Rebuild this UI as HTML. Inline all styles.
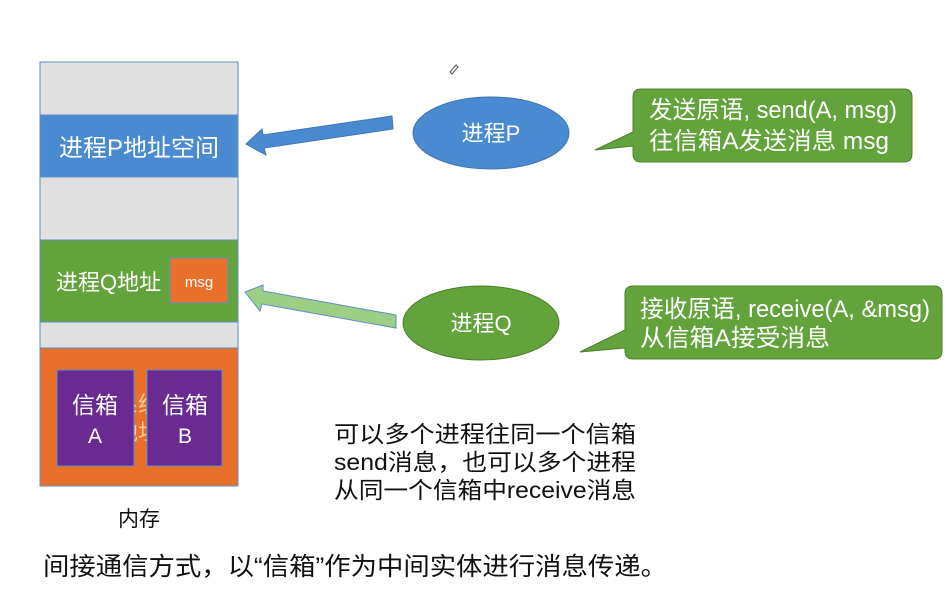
<!DOCTYPE html>
<html><head><meta charset="utf-8"><style>
body{margin:0;background:#fff;}
svg text{font-family:"Liberation Sans","Noto Sans CJK SC",sans-serif;}
</style></head><body>
<svg width="951" height="601" xmlns="http://www.w3.org/2000/svg">
<rect width="951" height="601" fill="#fff"/>
<rect x="40" y="62" width="198" height="53" fill="#e0e0e0" stroke="#5b8fc7" stroke-width="1"/>
<rect x="40" y="115" width="198" height="62" fill="#4a8ad0" stroke="#5b8fc7" stroke-width="1"/>
<rect x="40" y="177" width="198" height="63" fill="#e0e0e0" stroke="#5b8fc7" stroke-width="1"/>
<rect x="40" y="240" width="198" height="82" fill="#62a33b" stroke="#5b8fc7" stroke-width="1"/>
<rect x="40" y="322" width="198" height="26" fill="#e0e0e0" stroke="#5b8fc7" stroke-width="1"/>
<rect x="40" y="348" width="198" height="138" fill="#e8702a" stroke="#5b8fc7" stroke-width="1"/>
<text x="139" y="156" font-size="24" fill="#fff" text-anchor="middle">进程P地址空间</text>
<text x="56" y="290" font-size="22" fill="#fff">进程Q地址</text>
<rect x="170" y="258" width="58" height="45" fill="#e8702a" stroke="#5b8fc7"/>
<text x="199" y="287" font-size="15" fill="#fff" text-anchor="middle">msg</text>
<text x="138" y="412" font-size="22" fill="#f9c9a0" text-anchor="middle">系统</text>
<text x="138" y="440" font-size="22" fill="#f9c9a0" text-anchor="middle">地址</text>
<rect x="57" y="370" width="77" height="96" fill="#6a2a92" stroke="#5b8fc7"/>
<rect x="147" y="370" width="75" height="96" fill="#6a2a92" stroke="#5b8fc7"/>
<text x="95" y="413" font-size="23" fill="#fff" text-anchor="middle">信箱</text>
<text x="95" y="443" font-size="21" fill="#fff" text-anchor="middle">A</text>
<text x="185" y="413" font-size="23" fill="#fff" text-anchor="middle">信箱</text>
<text x="185" y="443" font-size="21" fill="#fff" text-anchor="middle">B</text>
<text x="139" y="526" font-size="21" fill="#111" text-anchor="middle">内存</text>
<polygon points="392,116 393,129 264,148 266,155 246,144 262,129 263,135" fill="#4a8ad0" stroke="#3d74b3" stroke-width="1"/>
<polygon points="396,315 396,328 262,304 260,311 245,292 263,285 263,291" fill="#9ccf85" stroke="#5b8fc7" stroke-width="1"/>
<ellipse cx="491" cy="133" rx="78" ry="36" fill="#4a8ad0" stroke="#3d74b3"/>
<text x="491" y="141" font-size="22" fill="#fff" text-anchor="middle">进程P</text>
<ellipse cx="481" cy="323" rx="78" ry="37" fill="#62a33b" stroke="#4a7f2c"/>
<text x="481" y="331" font-size="22" fill="#fff" text-anchor="middle">进程Q</text>
<path d="M641,89 H904 Q912,89 912,97 V154 Q912,162 904,162 H641 Q633,162 633,154 V146 L595,150 L633,132 V97 Q633,89 641,89 Z" fill="#62a33b" stroke="#4a7f2c"/>
<text x="649" y="118" font-size="24" fill="#fff" textLength="248" lengthAdjust="spacingAndGlyphs">发送原语, send(A, msg)</text>
<text x="649" y="149" font-size="24" fill="#fff" textLength="240" lengthAdjust="spacingAndGlyphs">往信箱A发送消息 msg</text>
<path d="M633,286 H934 Q942,286 942,294 V351 Q942,359 934,359 H633 Q625,359 625,351 V348 L580,352 L625,330 V294 Q625,286 633,286 Z" fill="#62a33b" stroke="#4a7f2c"/>
<text x="640" y="317" font-size="24" fill="#fff" textLength="290" lengthAdjust="spacingAndGlyphs">接收原语, receive(A, &amp;msg)</text>
<text x="640" y="346" font-size="24" fill="#fff" textLength="190" lengthAdjust="spacingAndGlyphs">从信箱A接受消息</text>
<text x="334" y="442" font-size="23" fill="#111" textLength="302" lengthAdjust="spacingAndGlyphs">可以多个进程往同一个信箱</text>
<text x="334" y="470" font-size="23" fill="#111" textLength="302" lengthAdjust="spacingAndGlyphs">send消息，也可以多个进程</text>
<text x="334" y="498" font-size="23" fill="#111" textLength="302" lengthAdjust="spacingAndGlyphs">从同一个信箱中receive消息</text>
<text x="43" y="575" font-size="25" fill="#111" textLength="624" lengthAdjust="spacingAndGlyphs">间接通信方式，以“信箱”作为中间实体进行消息传递。</text>
<path d="M450,72 l6,-7 2,2 -6,7 z" fill="none" stroke="#555" stroke-width="1"/>
</svg>
</body></html>
